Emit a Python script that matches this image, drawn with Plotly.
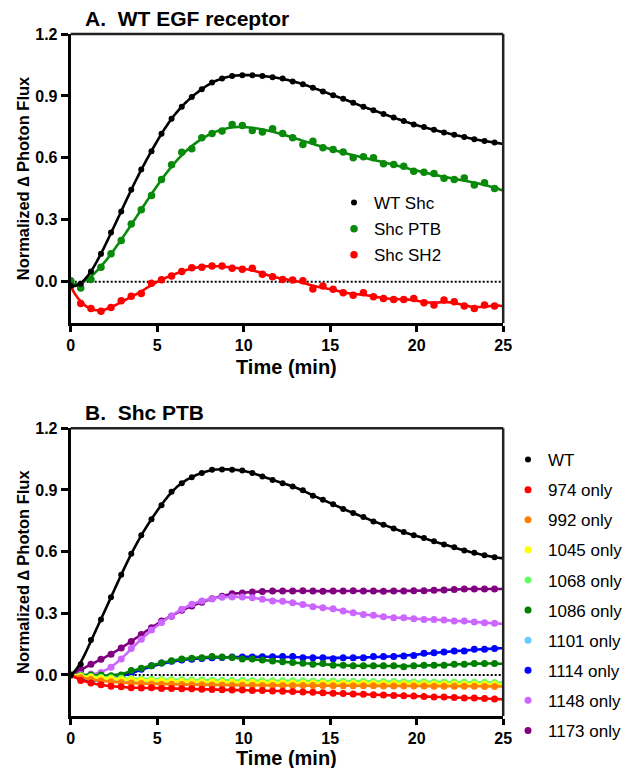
import numpy as np
import plotly.graph_objects as go

# ---------------- data ----------------
TIME_MIN = [0, 0.58, 1.17, 1.75, 2.33, 2.92, 3.5, 4.08, 4.67, 5.25, 5.83, 6.42, 7.0, 7.58,
            8.17, 8.75, 9.33, 9.92, 10.5, 11.08, 11.67, 12.25, 12.83, 13.42, 14.0, 14.58,
            15.17, 15.75, 16.33, 16.92, 17.5, 18.08, 18.67, 19.25, 19.83, 20.42, 21.0,
            21.58, 22.17, 22.75, 23.33, 23.92, 24.5]

# Panel A: WT EGF receptor
A_WT_SHC = [-0.02, -0.01, 0.05, 0.135, 0.238, 0.34, 0.446, 0.543, 0.632, 0.717, 0.79, 0.848,
            0.895, 0.932, 0.965, 0.984, 0.997, 1.0, 1.0, 0.997, 0.99, 0.984, 0.97, 0.957, 0.94,
            0.922, 0.903, 0.886, 0.867, 0.847, 0.831, 0.813, 0.795, 0.779, 0.762, 0.749, 0.736,
            0.723, 0.712, 0.701, 0.69, 0.682, 0.674]
A_SHC_PTB = [0.005, -0.03, 0.011, 0.07, 0.135, 0.2, 0.28, 0.349, 0.418, 0.495, 0.567, 0.627,
             0.644, 0.697, 0.718, 0.73, 0.762, 0.757, 0.733, 0.725, 0.741, 0.718, 0.697, 0.665,
             0.681, 0.649, 0.641, 0.628, 0.6, 0.605, 0.6, 0.571, 0.568, 0.559, 0.535, 0.53,
             0.524, 0.501, 0.495, 0.503, 0.469, 0.479, 0.452]
A_SHC_SH2 = [-0.021, -0.105, -0.13, -0.143, -0.125, -0.092, -0.07, -0.057, -0.008, 0.01, 0.028,
             0.049, 0.068, 0.07, 0.076, 0.076, 0.065, 0.06, 0.065, 0.036, 0.024, 0.011, 0.008,
             0.005, -0.035, -0.021, -0.037, -0.054, -0.065, -0.054, -0.073, -0.081, -0.086,
             -0.086, -0.081, -0.102, -0.113, -0.089, -0.097, -0.118, -0.13, -0.113, -0.118]

# Panel B: Shc PTB
B_WT = [0, 0.052, 0.17, 0.27, 0.378, 0.487, 0.589, 0.679, 0.758, 0.826, 0.891, 0.933, 0.962,
        0.982, 0.998, 1.0, 0.998, 0.995, 0.982, 0.966, 0.949, 0.933, 0.917, 0.898, 0.872, 0.852,
        0.831, 0.807, 0.788, 0.768, 0.747, 0.731, 0.713, 0.695, 0.679, 0.666, 0.65, 0.634,
        0.621, 0.605, 0.594, 0.582, 0.573]
B_974 = [0, -0.027, -0.04, -0.048, -0.055, -0.058, -0.062, -0.064, -0.062, -0.066, -0.066,
         -0.068, -0.068, -0.07, -0.071, -0.072, -0.074, -0.074, -0.076, -0.076, -0.078, -0.079,
         -0.081, -0.083, -0.085, -0.087, -0.089, -0.091, -0.093, -0.094, -0.096, -0.098, -0.1,
         -0.101, -0.103, -0.105, -0.107, -0.108, -0.11, -0.112, -0.113, -0.115, -0.117]
B_992 = [0, -0.014, -0.022, -0.028, -0.033, -0.037, -0.04, -0.042, -0.044, -0.045, -0.046,
         -0.047, -0.048, -0.048, -0.049, -0.049, -0.05, -0.05, -0.05, -0.051, -0.051, -0.051,
         -0.052, -0.052, -0.052, -0.052, -0.053, -0.053, -0.053, -0.053, -0.053, -0.054, -0.054,
         -0.054, -0.054, -0.054, -0.055, -0.055, -0.055, -0.055, -0.055, -0.056, -0.056]
B_1045 = [0, -0.007, -0.012, -0.016, -0.019, -0.022, -0.024, -0.026, -0.028, -0.029, -0.031,
          -0.032, -0.033, -0.034, -0.035, -0.036, -0.036, -0.037, -0.037, -0.038, -0.038, -0.039,
          -0.039, -0.039, -0.04, -0.04, -0.04, -0.041, -0.041, -0.041, -0.042, -0.042, -0.042,
          -0.043, -0.043, -0.043, -0.044, -0.044, -0.044, -0.045, -0.045, -0.045, -0.046]
B_1068 = [0, -0.004, -0.008, -0.011, -0.014, -0.016, -0.018, -0.02, -0.021, -0.022, -0.023,
          -0.024, -0.025, -0.025, -0.026, -0.026, -0.027, -0.027, -0.028, -0.028, -0.028, -0.029,
          -0.029, -0.029, -0.03, -0.03, -0.03, -0.031, -0.031, -0.031, -0.032, -0.032, -0.032,
          -0.033, -0.033, -0.033, -0.034, -0.034, -0.035, -0.035, -0.036, -0.036, -0.037]
B_1086 = [0, -0.002, 0.0, 0.0, -0.004, 0.0, 0.021, 0.032, 0.045, 0.058, 0.069, 0.077, 0.081,
          0.084, 0.089, 0.087, 0.085, 0.077, 0.077, 0.072, 0.068, 0.064, 0.06, 0.057, 0.052,
          0.055, 0.047, 0.047, 0.044, 0.044, 0.044, 0.044, 0.044, 0.04, 0.044, 0.047, 0.047,
          0.047, 0.052, 0.052, 0.055, 0.055, 0.055]
B_1101 = [0, -0.01, -0.017, -0.022, -0.026, -0.029, -0.031, -0.033, -0.035, -0.036, -0.037,
          -0.038, -0.039, -0.04, -0.04, -0.041, -0.041, -0.042, -0.042, -0.043, -0.043, -0.043,
          -0.044, -0.044, -0.044, -0.045, -0.045, -0.045, -0.045, -0.046, -0.046, -0.046, -0.046,
          -0.047, -0.047, -0.047, -0.047, -0.048, -0.048, -0.048, -0.048, -0.049, -0.049]
B_1114 = [0, -0.02, -0.03, -0.03, -0.025, -0.012, 0.008, 0.028, 0.045, 0.058, 0.066, 0.072,
          0.076, 0.08, 0.084, 0.085, 0.087, 0.087, 0.087, 0.088, 0.088, 0.089, 0.089, 0.084,
          0.084, 0.084, 0.079, 0.084, 0.084, 0.084, 0.089, 0.089, 0.089, 0.092, 0.095, 0.105,
          0.108, 0.112, 0.116, 0.116, 0.125, 0.125, 0.128]
B_1148 = [0, 0.002, 0.004, 0.012, 0.037, 0.077, 0.129, 0.174, 0.218, 0.255, 0.287, 0.319,
          0.344, 0.36, 0.371, 0.378, 0.379, 0.379, 0.376, 0.368, 0.36, 0.359, 0.351, 0.343,
          0.332, 0.327, 0.322, 0.311, 0.303, 0.294, 0.29, 0.283, 0.278, 0.278, 0.273, 0.27,
          0.27, 0.267, 0.262, 0.262, 0.257, 0.254, 0.251]
B_1173 = [0, 0.024, 0.052, 0.076, 0.1, 0.131, 0.163, 0.197, 0.23, 0.262, 0.286, 0.314, 0.335,
          0.354, 0.37, 0.383, 0.395, 0.399, 0.403, 0.406, 0.408, 0.408, 0.408, 0.409, 0.408,
          0.407, 0.408, 0.408, 0.409, 0.408, 0.408, 0.407, 0.408, 0.408, 0.41, 0.41, 0.412,
          0.413, 0.415, 0.418, 0.418, 0.418, 0.418]

A_NAMES = ["WT Shc", "Shc PTB", "Shc SH2"]
A_COLORS = ["#000000", "#0a8a0a", "#ff0000"]
B_NAMES = ["WT", "974 only", "992 only", "1045 only", "1068 only", "1086 only",
           "1101 only", "1114 only", "1148 only", "1173 only"]
B_COLORS = ["#000000", "#ff0000", "#ff8000", "#ffff00", "#66ff66", "#008000",
            "#66ccff", "#0000ff", "#cc66ff", "#800080"]

X_TICKS = [0, 5, 10, 15, 20, 25]
Y_TICKS = [0.0, 0.3, 0.6, 0.9, 1.2]
Y_TICKTEXT = ["0.0", "0.3", "0.6", "0.9", "1.2"]

FONT = "Arial, 'Liberation Sans', Helvetica, sans-serif"


def fit_curve(t, y, grid, bw):
    """Local quadratic (kernel-weighted) smoothing fit of the measured points."""
    t = np.asarray(t, float)
    y = np.asarray(y, float)
    out = []
    for g in grid:
        d = t - g
        w = np.exp(-0.5 * (d / bw) ** 2)
        X = np.vstack([np.ones_like(d), d, d ** 2]).T
        A = X.T @ (X * w[:, None])
        b = X.T @ (w * y)
        out.append(np.linalg.solve(A, b)[0])
    return out


GRID = np.linspace(0, 25, 251)

fig = go.Figure()


def add_series(y, name, color, xa, ya, legend, rank, msize, bw):
    fig.add_trace(go.Scatter(
        x=GRID, y=fit_curve(TIME_MIN, y, GRID, bw), mode="lines",
        line=dict(color=color, width=2.6, shape="spline"),
        xaxis=xa, yaxis=ya, showlegend=False, hoverinfo="skip"))
    fig.add_trace(go.Scatter(
        x=TIME_MIN, y=y, mode="markers", name=name, legendgroup=name,
        marker=dict(color=color, size=msize, line=dict(width=0)),
        xaxis=xa, yaxis=ya, legend=legend, legendrank=rank))


A_DATA = [A_WT_SHC, A_SHC_PTB, A_SHC_SH2]
A_BW = [0.6, 1.4, 0.85]
B_DATA = [B_WT, B_974, B_992, B_1045, B_1068, B_1086, B_1101, B_1114, B_1148, B_1173]
B_BW = [0.6, 0.9, 0.9, 0.9, 0.9, 0.9, 0.9, 1.6, 0.8, 0.8]

# draw in reverse order so that the first series sits on top
for i in reversed(range(len(A_DATA))):
    add_series(A_DATA[i], A_NAMES[i], A_COLORS[i], "x", "y", "legend", i + 1,
               6 if i == 0 else 7.5, A_BW[i])
for i in reversed(range(len(B_DATA))):
    add_series(B_DATA[i], B_NAMES[i], B_COLORS[i], "x2", "y2", "legend2", i + 1,
               6 if i == 0 else 7, B_BW[i])

# page body adds an 8px margin, so the figure is 8px smaller and all positions shift by 8
W, H = 628, 760
OFF = 8
XDOM = [(70.7 - OFF) / W, (503.2 - OFF) / W]
YDOM_A = [(H - (323 - OFF)) / H, (H - (34 - OFF)) / H]
YDOM_B = [(H - (716 - OFF)) / H, (H - (428.3 - OFF)) / H]


def px_x(x):
    return (x - OFF) / W


def px_y(y):
    return (H - (y - OFF)) / H


tickfont = dict(family=FONT, size=16, color="black", weight="bold")


def xaxis(dom, anchor):
    return dict(domain=dom, anchor=anchor, range=[0, 25], tickvals=X_TICKS,
                showline=True, linewidth=3, linecolor="black", mirror=False,
                ticks="outside", ticklen=6, tickwidth=3, tickcolor="black",
                tickfont=tickfont, showgrid=False, zeroline=False, automargin=False)


def yaxis(dom, anchor):
    return dict(domain=dom, anchor=anchor, range=[-0.2, 1.2], tickvals=Y_TICKS,
                ticktext=Y_TICKTEXT, showline=True, linewidth=3, linecolor="black",
                ticks="outside", ticklen=7, tickwidth=3, tickcolor="black",
                tickfont=tickfont, showgrid=False, zeroline=False, automargin=False,
                title=dict(text="Normalized \u2206 Photon Flux",
                           font=dict(family=FONT, size=16.5, color="black", weight="bold"),
                           standoff=2))


shapes = []
for xr, yr, xd, yd in [("x", "y", "x domain", "y domain"), ("x2", "y2", "x2 domain", "y2 domain")]:
    shapes.append(dict(type="line", xref=xr, yref=yr, x0=0, x1=25, y0=0, y1=0, layer="below",
                       line=dict(color="black", width=2, dash="2px,2px")))
    shapes.append(dict(type="line", xref=xd, yref=yd, x0=0, x1=1, y0=1, y1=1,
                       line=dict(color="#222222", width=2.5)))
    shapes.append(dict(type="line", xref=xd, yref=yd, x0=1, x1=1, y0=0, y1=1,
                       line=dict(color="#222222", width=2.5)))

legfont = dict(family=FONT, size=17, color="black")
xcenter = (XDOM[0] + XDOM[1]) / 2


def ann(text, x, y, xanchor, size):
    return dict(text=text, x=x, y=y, xref="paper", yref="paper", xanchor=xanchor,
                yanchor="middle", showarrow=False,
                font=dict(family=FONT, size=size, color="black", weight="bold"))


fig.update_layout(
    width=W, height=H, autosize=False,
    margin=dict(l=0, r=0, t=0, b=0, autoexpand=False),
    paper_bgcolor="white", plot_bgcolor="white",
    xaxis=xaxis(XDOM, "y"), yaxis=yaxis(YDOM_A, "x"),
    xaxis2=xaxis(XDOM, "y2"), yaxis2=yaxis(YDOM_B, "x2"),
    shapes=shapes,
    legend=dict(x=px_x(334), y=px_y(185), xanchor="left", yanchor="top",
                font=legfont, bgcolor="rgba(0,0,0,0)", tracegroupgap=1,
                itemclick=False, itemdoubleclick=False),
    legend2=dict(x=px_x(508), y=px_y(442), xanchor="left", yanchor="top",
                 font=legfont, bgcolor="rgba(0,0,0,0)", tracegroupgap=5,
                 itemclick=False, itemdoubleclick=False),
    annotations=[
        ann("A.\u00a0 WT EGF receptor", px_x(83), px_y(18), "left", 21),
        ann("B.\u00a0 Shc PTB", px_x(83), px_y(412), "left", 21),
        ann("Time (min)", xcenter, px_y(367), "center", 20),
        ann("Time (min)", xcenter, px_y(758), "center", 20),
    ],
    showlegend=True,
)

fig.write_html("out.html")
